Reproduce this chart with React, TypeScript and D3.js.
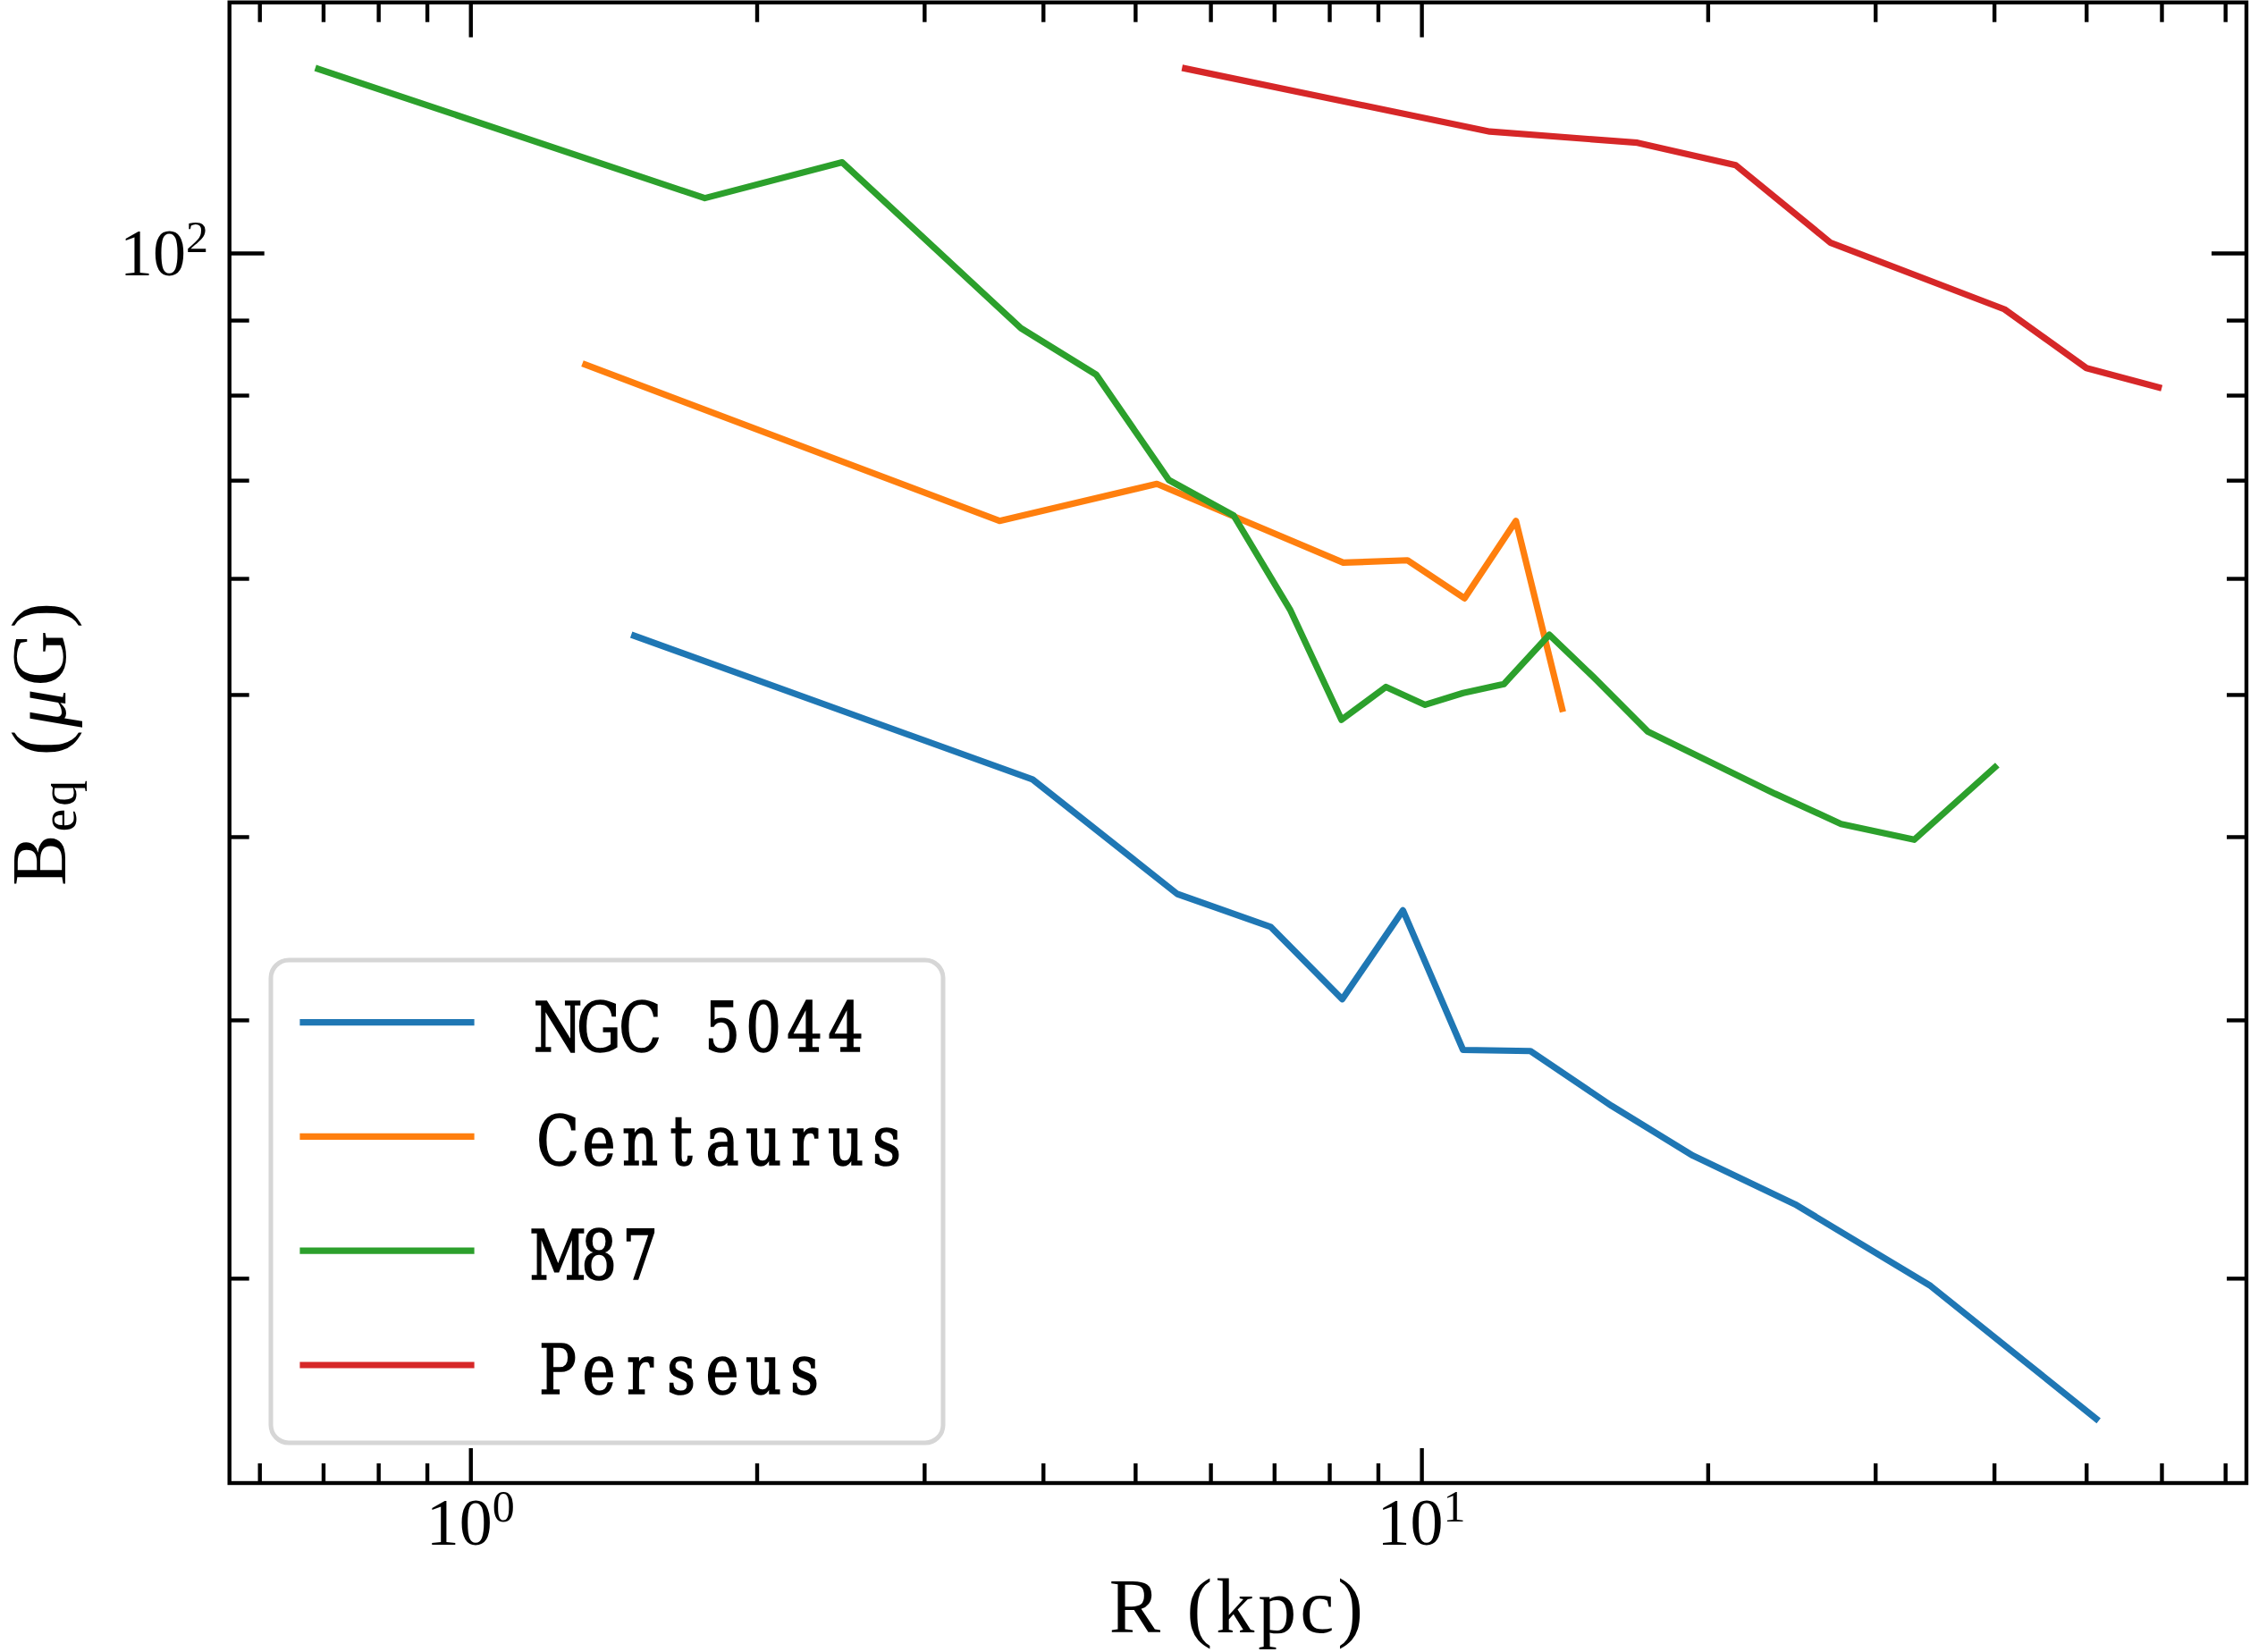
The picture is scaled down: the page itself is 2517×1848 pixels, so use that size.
import React, { useEffect, useRef } from 'react';
import * as d3 from 'd3';

const WIDTH = 2517;
const HEIGHT = 1848;

// R (kpc) / B_eq (uG)
const ngc5044R = [1.487, 3.90, 5.536, 6.941, 8.255, 9.562, 11.06, 13.02, 15.84, 19.30, 24.71, 34.30, 51.22];
const ngc5044B = [54.83, 43.76, 36.56, 34.72, 30.99, 35.63, 28.62, 28.57, 26.22, 24.24, 22.46, 19.76, 16.04];

const centaurusR = [1.321, 3.60, 5.27, 8.275, 9.668, 11.10, 12.57, 14.06];
const centaurusB = [83.92, 65.67, 69.60, 61.50, 61.73, 58.15, 65.67, 48.90];

const m87R = [0.692, 1.764, 2.46, 3.792, 4.55, 5.425, 6.347, 7.274, 8.24, 9.178, 10.09, 11.06, 12.21, 13.63, 15.15, 17.29, 19.99, 23.54, 27.62, 32.97, 40.09];
const m87B = [133.5, 109.0, 115.3, 88.87, 82.61, 70.02, 66.22, 57.14, 48.06, 50.60, 49.20, 50.12, 50.83, 54.92, 51.43, 47.19, 45.07, 42.79, 40.81, 39.81, 44.61];

const perseusR = [5.644, 11.80, 16.87, 21.40, 26.94, 41.03, 50.03, 59.58];
const perseusB = [133.6, 121.0, 118.9, 114.8, 101.6, 91.54, 83.47, 80.98];

const seriesNames = ['NGC 5044', 'Centaurus', 'M87', 'Perseus'];
const seriesColors = ['#1f77b4', '#ff7f0e', '#2ca02c', '#d62728'];
const seriesR = [ngc5044R, centaurusR, m87R, perseusR];
const seriesB = [ngc5044B, centaurusB, m87B, perseusB];

const xMajorTicks = [1, 10];
const xMinorTicks = [0.6, 0.7, 0.8, 0.9, 2, 3, 4, 5, 6, 7, 8, 9, 20, 30, 40, 50, 60, 70];
const yMajorTicks = [100];
const yMinorTicks = [20, 30, 40, 50, 60, 70, 80, 90];
const xTickExponents = ['0', '1'];
const yTickExponents = ['2'];

const App = () => {
    const svgRef = useRef(null);

    useEffect(() => {
        document.body.style.margin = '0';
        const svg = d3.select(svgRef.current);
        svg.selectAll('*').remove();

        const left = 256.7, right = 2513, top = 2.7, bottom = 1659;
        const x = d3.scaleLog().domain([0.558, 73.7]).range([left, right]);
        const y = d3.scaleLog().domain([14.5, 148.2]).range([bottom, top]);

        // data lines
        const line = d3.line<[number, number]>()
            .x(d => x(d[0]))
            .y(d => y(d[1]));

        seriesR.forEach((rs, i) => {
            const pts: [number, number][] = rs.map((r, j) => [r, seriesB[i][j]]);
            svg.append('path')
                .attr('d', line(pts))
                .attr('fill', 'none')
                .attr('stroke', seriesColors[i])
                .attr('stroke-width', 7.2)
                .attr('stroke-linecap', 'square')
                .attr('stroke-linejoin', 'round');
        });

        // inward ticks on all four sides
        const tickGroups = [
            { axis: d3.axisBottom(x), t: `translate(0,${bottom})`, major: xMajorTicks, minor: xMinorTicks },
            { axis: d3.axisTop(x), t: `translate(0,${top})`, major: xMajorTicks, minor: xMinorTicks },
            { axis: d3.axisLeft(y), t: `translate(${left},0)`, major: yMajorTicks, minor: yMinorTicks },
            { axis: d3.axisRight(y), t: `translate(${right},0)`, major: yMajorTicks, minor: yMinorTicks },
        ];
        tickGroups.forEach(g => {
            [[g.major, 39], [g.minor, 22]].forEach(([vals, len]) => {
                const ax = g.axis.tickValues(vals as number[]).tickSize(-(len as number)).tickFormat(() => '');
                svg.append('g')
                    .attr('transform', g.t)
                    .call(ax)
                    .call(s => s.select('.domain').remove())
                    .selectAll('.tick line')
                    .attr('stroke', '#000')
                    .attr('stroke-width', 4.4);
            });
        });

        // frame
        svg.append('rect')
            .attr('x', left).attr('y', top)
            .attr('width', right - left).attr('height', bottom - top)
            .attr('fill', 'none')
            .attr('stroke', '#000')
            .attr('stroke-width', 4.4);

        // tick labels
        const serif = '"Liberation Serif", serif';
        xMajorTicks.forEach((v, i) => {
            const t = svg.append('text')
                .attr('x', x(v)).attr('y', 1728)
                .attr('text-anchor', 'middle')
                .attr('font-family', serif)
                .attr('font-size', 74);
            t.append('tspan').text('10');
            t.append('tspan').attr('dy', -26).attr('font-size', 50).text(xTickExponents[i]);
        });
        yMajorTicks.forEach((v, i) => {
            const t = svg.append('text')
                .attr('x', 233).attr('y', y(v) + 25)
                .attr('text-anchor', 'end')
                .attr('font-family', serif)
                .attr('font-size', 74);
            t.append('tspan').text('10');
            t.append('tspan').attr('dy', -26).attr('font-size', 50).text(yTickExponents[i]);
        });

        // axis labels
        svg.append('text')
            .attr('x', (left + right) / 2).attr('y', 1826)
            .attr('text-anchor', 'middle')
            .attr('font-family', serif)
            .attr('font-size', 86)
            .attr('letter-spacing', 4)
            .text('R (kpc)');

        const yl = svg.append('text')
            .attr('transform', `translate(73,${(top + bottom) / 2}) rotate(-90)`)
            .attr('text-anchor', 'middle')
            .attr('font-family', serif)
            .attr('font-size', 86)
            .attr('letter-spacing', 3);
        yl.append('tspan').text('B');
        yl.append('tspan').attr('font-size', 58).attr('dy', 12).text('eq');
        yl.append('tspan').attr('dy', -12).text(' (');
        yl.append('tspan').attr('font-style', 'italic').text('\u03bc');
        yl.append('tspan').text('G)');

        // legend
        const leg = svg.append('g');
        leg.append('rect')
            .attr('x', 303).attr('y', 1074)
            .attr('width', 752).attr('height', 540)
            .attr('rx', 20)
            .attr('fill', '#fff')
            .attr('stroke', '#d6d6d6')
            .attr('stroke-width', 5);
        const pitch = 46;
        const squeeze = 0.9;
        seriesNames.forEach((name, i) => {
            const cy = 1143.6 + i * 127.8;
            leg.append('line')
                .attr('x1', 339).attr('x2', 527)
                .attr('y1', cy).attr('y2', cy)
                .attr('stroke', seriesColors[i])
                .attr('stroke-width', 7.2)
                .attr('stroke-linecap', 'square');
            // typewriter-like: narrowed serif glyphs on a fixed pitch
            const xs = name.split('').map((_, k) => (pitch / 2 + k * pitch) / squeeze);
            leg.append('text')
                .attr('transform', `translate(601,${cy + 32}) scale(${squeeze},1)`)
                .attr('x', xs.join(' ')).attr('y', 0)
                .attr('text-anchor', 'middle')
                .attr('font-family', '"DejaVu Serif Condensed", "DejaVu Serif", serif')
                .attr('font-stretch', 'condensed')
                .attr('font-size', 77)
                .attr('stroke', '#000')
                .attr('stroke-width', 1.5)
                .text(name);
        });
    }, []);

    return (
        <svg ref={svgRef} width={WIDTH} height={HEIGHT} style={{ display: 'block', background: '#fff' }} />
    );
};

export default App;
